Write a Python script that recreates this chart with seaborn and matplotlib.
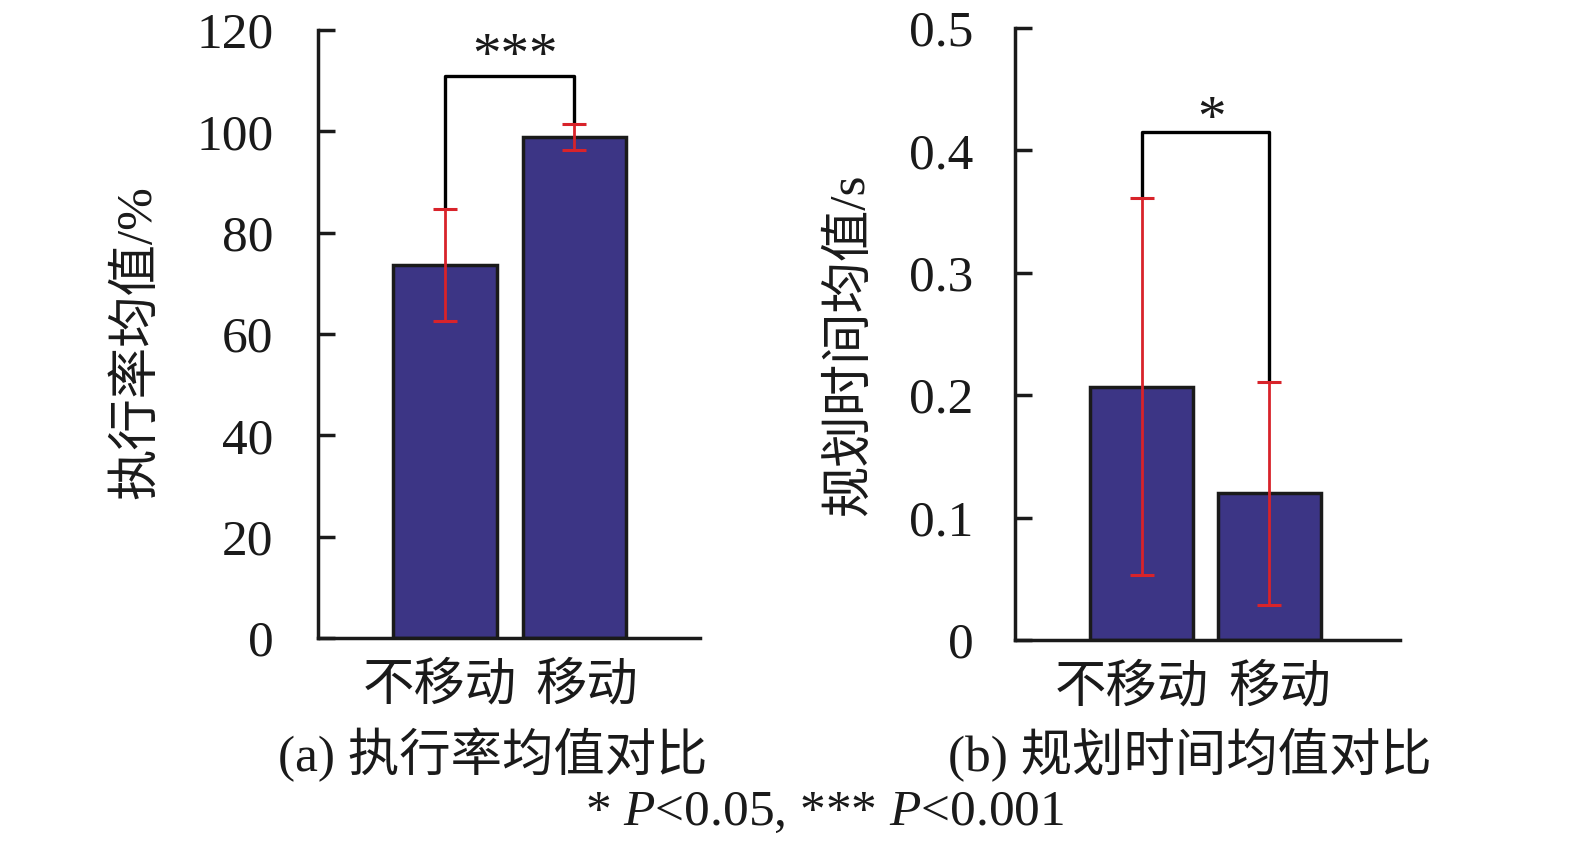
import numpy as np
import pandas as pd
import seaborn as sns
import matplotlib.pyplot as plt
from matplotlib.transforms import ScaledTranslation

# data
groups = ['不移动', '移动']
exec_rate_mean = [73.6, 98.9]
exec_rate_err = [11.0, 2.6]
plan_time_mean = [0.207, 0.120]
plan_time_err = [0.154, 0.091]
exec_bracket = 111.0
plan_bracket = 0.415
exec_sig = '***'
plan_sig = '*'

sns.set_theme(style='white')
plt.rcParams['font.family'] = ['Liberation Serif', 'Noto Sans CJK SC']
plt.rcParams['mathtext.fontset'] = 'custom'
plt.rcParams['mathtext.rm'] = 'Liberation Serif'
plt.rcParams['mathtext.it'] = 'Liberation Serif:italic'

bar_color = '#3c3585'
err_color = '#d8232a'
ink = '#1a1a1a'
fs = 37

fig = plt.figure(figsize=(15.75, 8.52), dpi=100)
ax1 = fig.add_axes([0.2019, 0.2512, 0.2425, 0.7136])
ax2 = fig.add_axes([0.6444, 0.2488, 0.2444, 0.7183])


def draw_panel(ax, means, errs, bracket, sig, ylim, yticks, ylabels, xlim,
               ypad, label_shift, sig_dy):
    df = pd.DataFrame({'group': groups, 'value': means})
    sns.barplot(data=df, x='group', y='value', ax=ax, color=bar_color,
                saturation=1, edgecolor=ink, linewidth=2.5, width=0.8)
    x = np.arange(len(groups))
    ax.errorbar(x, means, yerr=errs, fmt='none', ecolor=err_color,
                elinewidth=2, capsize=8.5, capthick=2.2, zorder=5)
    tops = [m + e for m, e in zip(means, errs)]
    ax.plot([x[0], x[0], x[1], x[1]], [tops[0], bracket, bracket, tops[1]],
            color='black', lw=2.4, zorder=4)
    ax.annotate(sig, ((x[0] + x[1]) / 2, bracket), xytext=(4, sig_dy),
                textcoords='offset points', ha='center', va='bottom',
                fontsize=41, color=ink)
    ax.set_ylim(*ylim)
    ax.set_xlim(*xlim)
    ax.set_yticks(yticks)
    ax.set_yticklabels(ylabels)
    ax.set_xlabel('')
    ax.set_ylabel('')
    for s in ['top', 'right']:
        ax.spines[s].set_visible(False)
    for s in ['left', 'bottom']:
        ax.spines[s].set_linewidth(2.5)
        ax.spines[s].set_color(ink)
    ax.tick_params(axis='y', left=True, direction='in', length=12, width=2.5,
                   labelsize=fs, pad=ypad, colors=ink)
    ax.tick_params(axis='x', bottom=False, length=0, labelsize=fs, pad=18,
                   colors=ink)
    for lab, dx in zip(ax.get_xticklabels(), label_shift):
        lab.set_transform(lab.get_transform() +
                          ScaledTranslation(dx / 100, 0, fig.dpi_scale_trans))


draw_panel(ax1, exec_rate_mean, exec_rate_err, exec_bracket, exec_sig,
           (0, 120), [0, 20, 40, 60, 80, 100, 120],
           ['0', '20', '40', '60', '80', '100', '120'], (-0.98, 1.97), 32,
           [-5, 12], -6)
draw_panel(ax2, plan_time_mean, plan_time_err, plan_bracket, plan_sig,
           (0, 0.5), [0, 0.1, 0.2, 0.3, 0.4, 0.5],
           ['0', '0.1', '0.2', '0.3', '0.4', '0.5'], (-0.99, 2.02), 30,
           [-10, 10], -11)

fig.text(137 / 1575, 1 - 342 / 852, '执行率均值/%', rotation=90,
         ha='center', va='center', fontsize=fs, color=ink)
fig.text(850 / 1575, 1 - 345 / 852, '规划时间均值/s', rotation=90,
         ha='center', va='center', fontsize=fs, color=ink)
fig.text(493 / 1575, 1 - 755 / 852, '(a) 执行率均值对比', ha='center',
         va='center', fontsize=fs, color=ink)
fig.text(1190 / 1575, 1 - 755 / 852, '(b) 规划时间均值对比', ha='center',
         va='center', fontsize=fs, color=ink)
fig.text(825 / 1575, 1 - 813 / 852, '* $P$<0.05, *** $P$<0.001',
         ha='center', va='center', fontsize=fs, color=ink)

fig.savefig('out.png', dpi=100)
